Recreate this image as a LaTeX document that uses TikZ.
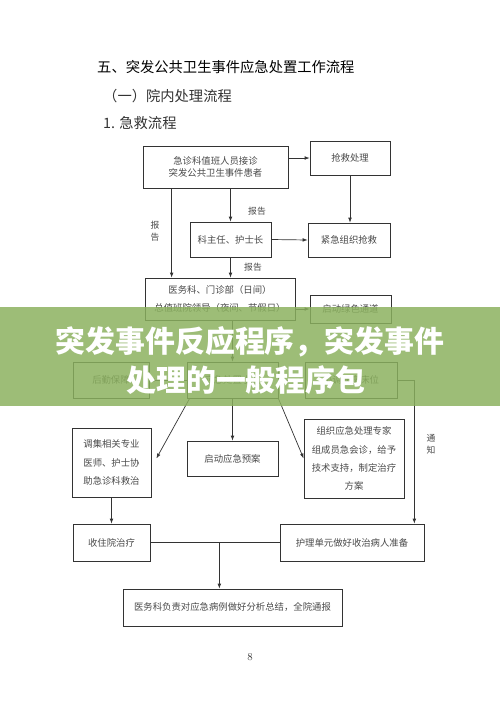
\documentclass[tikz,border=0pt]{standalone}
\usepackage{fontspec}
\usepackage{xcolor}
\usepackage{tikz}
\usetikzlibrary{arrows.meta,calc,positioning}
\newfontfamily\cjk{Noto Sans CJK SC}
\definecolor{ink}{HTML}{333333}
\definecolor{boxtxt}{HTML}{4A4A4A}
\definecolor{bannergreen}{HTML}{8BB15E}

\begin{document}
\begin{tikzpicture}[x=0.03cm,y=0.03cm, every node/.style={font=\cjk\fontsize{8}{10.8}\selectfont,align=center,text=boxtxt},
  bx/.style 2 args={draw=ink,line width=0.6pt,minimum width=#1*0.03cm,minimum height=#2*0.03cm,inner sep=1pt},
  tall/.style={font=\cjk\fontsize{8}{15.5}\selectfont},
  hd/.style={anchor=west,inner sep=0pt,font=\cjk\fontsize{12.2}{14}\selectfont},
  lab/.style={inner sep=0pt,font=\cjk\fontsize{7.5}{10.2}\selectfont},
  a/.style={-{Latex[length=1.5mm,width=1.1mm]},draw=ink,line width=0.6pt},
  ln/.style={draw=ink,line width=0.6pt}]
  \fill[white] (0,0) rectangle (500,-714);
  \useasboundingbox (0,0) rectangle (500,-714);
  % headings
  \node[hd,text=black] (t1) at (97,-67) {五、突发公共卫生事件应急处置工作流程};
  \node[hd,text=ink] (t2) at (103,-96) {（一）院内处理流程};
  \node[hd,text=ink] (t3) at (103,-123) {1. 急救流程};
  % boxes
  \node[bx={145}{42}] (rec) at (215.5,-167) {急诊科值班人员接诊\\突发公共卫生事件患者};
  \node[bx={80}{34}] (resc) at (350,-158) {抢救处理};
  \node[bx={81}{35}] (head) at (230.5,-239.5) {科主任、护士长};
  \node[bx={82}{34}] (org) at (349,-240) {紧急组织抢救};
  \node[bx={150}{42},tall] (lead) at (220,-299) {医务科、门诊部（日间）\\总值班院领导（夜间、节假日）};
  \node[bx={81}{28}] (green) at (350.5,-309) {启动绿色通道};
  \node[bx={76}{36}] (logi) at (111,-380) {后勤保障};
  \node[bx={91}{36}] (grp) at (232.5,-380) {应急处置小组};
  \node[bx={92}{36}] (bed) at (351,-380) {协调病房床位};
  \node[bx={79}{69},tall] (call) at (111.5,-462.5) {调集相关专业\\医师、护士协\\助急诊科救治};
  \node[bx={91}{35}] (plan) at (232.5,-458.5) {启动应急预案};
  \node[bx={100}{79},tall] (expt) at (354,-458.5) {组织应急处理专家\\组成员急会诊，给予\\技术支持，制定治疗\\方案};
  \node[bx={77}{37}] (adm) at (111.5,-542.5) {收住院治疗};
  \node[bx={144}{37}] (nurse) at (352,-542.5) {护理单元做好收治病人准备};
  \node[bx={219}{37}] (sum) at (232.5,-607.5) {医务科负责对应急病例做好分析总结，全院通报};
  % labels
  \node[lab] (rp1) at (155,-231) {报\\告};
  \node[lab] (rp2) at (257,-211) {报告};
  \node[lab] (rp3) at (253,-267) {报告};
  \node[lab] (ntf) at (431,-444) {通\\知};
  \node[font=\rmfamily\fontsize{9}{10}\selectfont,text=ink] (pg) at (250,-657) {8};
  % connectors
  \coordinate (rl) at ($(rec.south west)+(29,0)$);
  \coordinate (nt) at ($(nurse.north east)+(-10,0)$);
  \coordinate (mj) at ($(adm.east)+(69,0)$);
  \draw[a] (rec.east |- resc) -- (resc.west);
  \draw[a] (resc.south) -- (resc.south |- org.north);
  \draw[a] (head.north |- rec.south) -- (head.north);
  \draw[a] (head.east) -- (org.west);
  \draw[a] (rl) -- (rl |- lead.north);
  \draw[a] (head.south) -- (head.south |- lead.north);
  \draw[a] (lead.east |- green) -- (green.west);
  \draw[a] (grp.north |- lead.south) -- (grp.north);
  \draw[a] (grp.west) -- (logi.east);
  \draw[a] (grp.east) -- (bed.west);
  \draw[a] (bed.east) -| (nt);
  \draw[a] ($(grp.south west)+(3,0)$) -- ($(call.east)+(5,4)$);
  \draw[a] (grp.south) -- (plan.north);
  \draw[a] (grp.south east) -- (expt.west);
  \draw[a] (call.south) -- (adm.north);
  \draw[ln] (adm.east) -- (nurse.west);
  \draw[a] (mj) -- (mj |- sum.north);
  % banner
  \fill[bannergreen,fill opacity=0.84] (0,-307) rectangle (500,-406);
  \node[font=\cjk\bfseries\fontsize{25.5}{30}\selectfont,text=white] (bn1) at (250,-342) {突发事件反应程序，突发事件};
  \node[font=\cjk\bfseries\fontsize{25.5}{30}\selectfont,text=white] (bn2) at (246,-380) {处理的一般程序包};
\end{tikzpicture}
\end{document}
